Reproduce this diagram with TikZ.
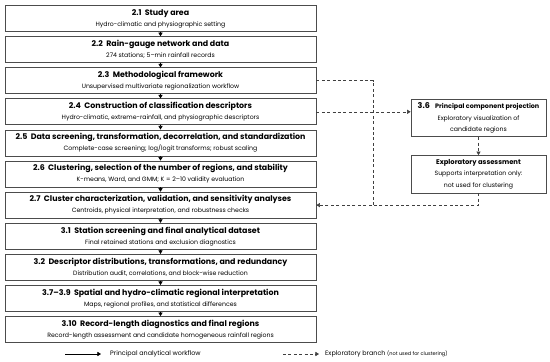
\documentclass[tikz,border=0pt]{standalone}
\usepackage{fontspec}
\setmainfont{Poppins}
\usetikzlibrary{arrows.meta,positioning}

\tikzset{
  stage/.style={draw=black!70, line width=0.7pt, minimum width=311pt, minimum height=26pt,
    inner sep=0pt, align=center},
  sidebox/.style={draw=black!70, line width=0.7pt, minimum width=135pt, minimum height=37.5pt,
    inner sep=0pt, align=center},
  flow/.style={-{Triangle[length=3.6pt,width=4.2pt]}, line width=0.6pt},
  branch/.style={dashed, dash pattern=on 3pt off 2.4pt, line width=0.6pt, draw=black!75},
  note/.style={font=\fontsize{6.4}{8}\selectfont, anchor=west, inner sep=0pt}
}
\newcommand{\stagetext}[2]{{\fontsize{7.9}{10}\selectfont\bfseries #1}\\[-1pt]{\fontsize{6.2}{8}\selectfont #2}}

\begin{document}
\begin{tikzpicture}[node distance=4.4pt]
\useasboundingbox (0,0) rectangle (550pt,-362pt);

% principal workflow
\node[stage] (s21) at (160.5pt,-18.5pt) {\stagetext{2.1\ \ Study area}{Hydro-climatic and physiographic setting}};
\node[stage, below=of s21] (s22) {\stagetext{2.2\ \ Rain-gauge network and data}{274 stations; 5--min rainfall records}};
\node[stage, below=of s22] (s23) {\stagetext{2.3\ \ Methodological framework}{Unsupervised multivariate regionalization workflow}};
\node[stage, below=of s23] (s24) {\stagetext{2.4\ \ Construction of classification descriptors}{Hydro-climatic, extreme-rainfall, and physiographic descriptors}};
\node[stage, below=of s24] (s25) {\stagetext{2.5\ \ Data screening, transformation, decorrelation, and standardization}{Complete-case screening; log/logit transforms; robust scaling}};
\node[stage, below=of s25] (s26) {\stagetext{2.6\ \ Clustering, selection of the number of regions, and stability}{K-means, Ward, and GMM; K = 2--10 validity evaluation}};
\node[stage, below=of s26] (s27) {\stagetext{2.7\ \ Cluster characterization, validation, and sensitivity analyses}{Centroids, physical interpretation, and robustness checks}};
\node[stage, below=of s27] (s31) {\stagetext{3.1\ \ Station screening and final analytical dataset}{Final retained stations and exclusion diagnostics}};
\node[stage, below=of s31] (s32) {\stagetext{3.2\ \ Descriptor distributions, transformations, and redundancy}{Distribution audit, correlations, and block-wise reduction}};
\node[stage, below=of s32] (s37) {\stagetext{3.7--3.9\ \ Spatial and hydro-climatic regional interpretation}{Maps, regional profiles, and statistical differences}};
\node[stage, below=of s37] (s310) {\stagetext{3.10\ \ Record-length diagnostics and final regions}{Record-length assessment and candidate homogeneous rainfall regions}};

\foreach \a/\b in {s21/s22,s22/s23,s23/s24,s24/s25,s25/s26,s26/s27,s27/s31,s31/s32,s32/s37,s37/s310}
  \draw[flow] (\a) -- (\b);

% exploratory branch
\node[sidebox] (pca) at (478.5pt,-118pt) {{\fontsize{8}{10}\selectfont\bfseries 3.6}\ \ {\fontsize{6.4}{10}\selectfont\bfseries Principal component projection}\\[-0.5pt]
  {\fontsize{6.2}{8}\selectfont Exploratory visualization of}\\[-0.5pt]{\fontsize{6.2}{8}\selectfont candidate regions}};
\node[sidebox, below=18pt of pca] (assess) {{\fontsize{6.8}{9}\selectfont\bfseries Exploratory assessment}\\[-0.5pt]
  {\fontsize{6.2}{8}\selectfont Supports interpretation only:}\\[-0.5pt]{\fontsize{6.2}{8}\selectfont not used for clustering}};

\coordinate (join) at (373pt,0 |- s27.east);
\draw[branch] (s23.east) -| (join);
\draw[branch, -{Triangle[length=3.6pt,width=4.2pt]}] (s24.east) -- (s24.east -| pca.west);
\draw[branch, -{Triangle[length=3.6pt,width=4.2pt]}] (pca) -- (assess);
\draw[branch, -{Triangle[length=3.6pt,width=4.2pt]}] (assess.south) |- (s27.east);

% legend
\coordinate (l1a) at (65pt,-354pt);
\coordinate (l1b) at (101pt,-354pt);
\draw[flow] (l1a) -- (l1b);
\node[note] (l1t) at (110pt,-354pt) {Principal analytical workflow};
\coordinate (l2a) at (283pt,-354pt);
\coordinate (l2b) at (319pt,-354pt);
\draw[branch, -{Triangle[length=3.6pt,width=4.2pt]}] (l2a) -- (l2b);
\node[note] (l2t) at (325pt,-354pt) {Exploratory branch {\fontsize{5}{6}\selectfont(not used for clustering)}};
\end{tikzpicture}
\end{document}
